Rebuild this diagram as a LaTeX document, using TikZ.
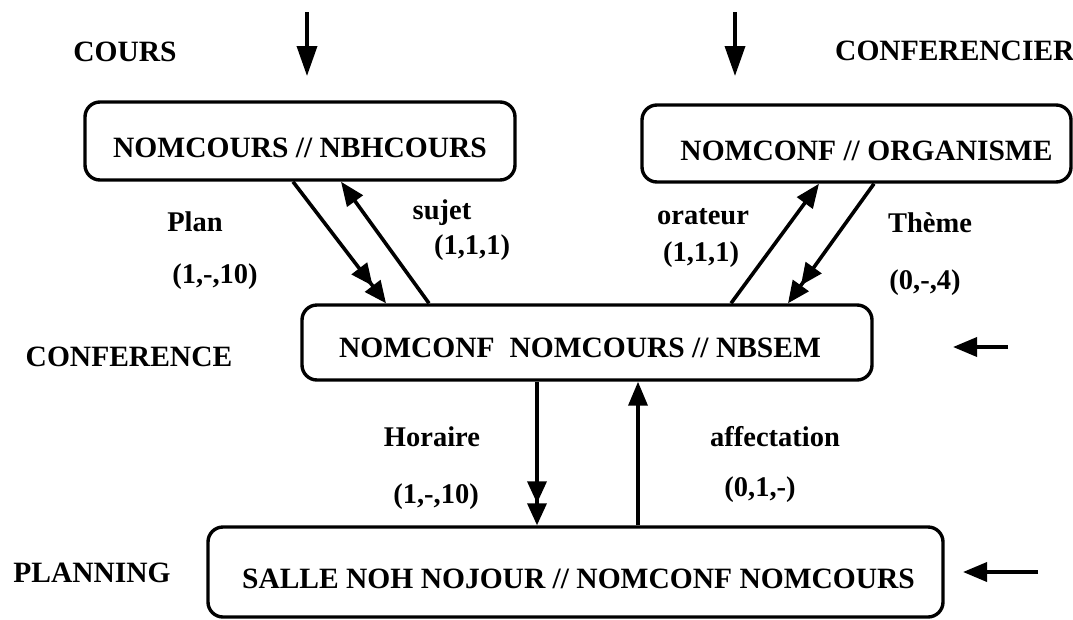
\documentclass[tikz,border=0pt]{standalone}
\usepackage{fontspec}
\setmainfont{Liberation Serif}
\usetikzlibrary{arrows.meta}
\newcommand\txt{\bfseries\fontsize{29.5}{36}\selectfont}
\newcommand\smtxt{\bfseries\fontsize{28.5}{34}\selectfont}
\begin{document}
\begin{tikzpicture}[x=1pt,y=-1pt,
  box/.style={draw, line width=3.4pt, rounded corners=15pt, font=\txt, text depth=0pt, inner sep=0pt},
  lbl/.style={font=\txt, inner sep=0pt},
  slbl/.style={font=\smtxt, inner sep=0pt},
  arr/.style={line width=3.6pt, -{Triangle[length=24pt,width=19pt]}},
  marr/.style={line width=3.6pt, -{Triangle[length=22pt,width=19pt,sep=0pt] Triangle[length=22pt,width=19pt]}},
  toparr/.style={line width=3.6pt, -{Triangle[length=30pt,width=20pt]}}
]
\fill[white] (0,0) rectangle (1073,619);
\useasboundingbox (0,0) rectangle (1073,619);

% boxes
\node[box, text height=32pt, minimum width=430pt, minimum height=78pt] (b1) at (300,141) {NOMCOURS // NBHCOURS};
\node[box, text height=34pt, minimum width=429pt, minimum height=77pt] (b2) at (856.5,143.5) {\hspace*{20pt}NOMCONF // ORGANISME};
\node[box, text height=29pt, minimum width=570pt, minimum height=75pt] (b3) at (587,342.5) {NOMCONF\ \ NOMCOURS // NBSEM\hspace*{14pt}};
\node[box, text height=32pt, minimum width=735pt, minimum height=90pt] (b4) at (575.5,572) {\hspace*{6pt}SALLE NOH NOJOUR // NOMCONF NOMCOURS};

% entity labels
\node[lbl] (lcours) at (125,52) {COURS};
\node[lbl, anchor=west] (lconfier) at (835,51) {CONFERENCIER};
\node[lbl] (lconf) at (129,357) {CONFERENCE};
\node[lbl] (lplan) at (92,573) {PLANNING};

% link labels
\node[slbl] (plan) at (195,222) {Plan};
\node[slbl] (planc) at (215,277) {(1,-,10)};
\node[slbl] (sujet) at (442,213) {sujet};
\node[slbl] (sujetc) at (472,248) {(1,1,1)};
\node[slbl] (orat) at (703,217) {orateur};
\node[slbl] (oratc) at (701,255) {(1,1,1)};
\node[slbl] (theme) at (930,223) {Thème};
\node[slbl] (themec) at (925,283) {(0,-,4)};
\node[slbl] (hor) at (432,437) {Horaire};
\node[slbl] (horc) at (436,497) {(1,-,10)};
\node[slbl] (aff) at (775,437) {affectation};
\node[slbl] (affc) at (760,490) {(0,1,-)};

% connectors between boxes
\draw[marr] ([xshift=-7pt]b1.south) -- ([xshift=-201pt]b3.north);
\draw[arr] ([xshift=-158pt]b3.north) -- ([xshift=41pt]b1.south);
\draw[arr] ([xshift=144pt]b3.north) -- ([xshift=-37.5pt]b2.south);
\draw[marr] ([xshift=17.5pt]b2.south) -- ([xshift=201pt]b3.north);
\draw[marr] ([xshift=-50pt]b3.south) -- ([xshift=-38.5pt]b4.north);
\draw[arr] ([xshift=62.5pt]b4.north) -- ([xshift=51pt]b3.south);

% free arrows
\coordinate (t1) at (307,12);
\coordinate (t1e) at (307,76);
\coordinate (t2) at (735,12);
\coordinate (t2e) at (735,76);
\draw[toparr] (t1) -- (t1e);
\draw[toparr] (t2) -- (t2e);

\coordinate (r1) at (1008,347);
\coordinate (r1e) at (953,347);
\coordinate (r2) at (1038,572);
\coordinate (r2e) at (963,572);
\draw[arr] (r1) -- (r1e);
\draw[arr] (r2) -- (r2e);
\end{tikzpicture}
\end{document}
